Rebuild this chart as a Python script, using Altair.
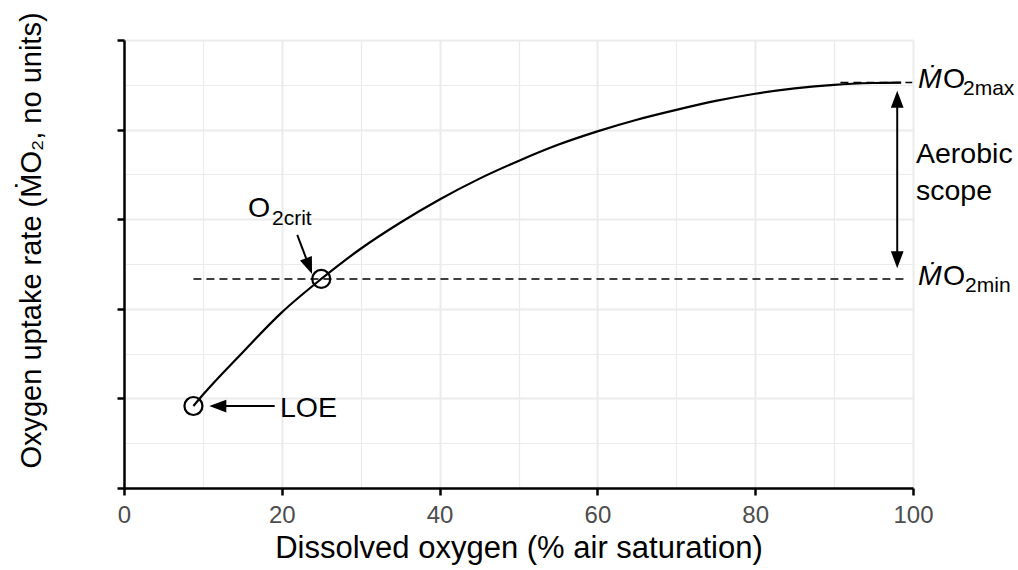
import altair as alt
import pandas as pd

FONT = "Liberation Sans"

# ---- curve (x: % air saturation, y: relative MO2) ----
do_pct = [8.8, 10, 15, 20, 25, 30, 35, 40, 45, 50, 55, 60, 65, 70, 75, 80, 85, 90, 95, 98.5]
mo2 = [0.915, 1.04, 1.51, 1.96, 2.333, 2.67, 2.96, 3.22, 3.45, 3.65, 3.83, 3.98, 4.11, 4.22, 4.32, 4.40, 4.46, 4.50, 4.52, 4.525]

# ---- reference levels ----
mo2_min = 2.333
mo2_max = 4.525
min_line_x = [8.8, 99.2]
max_line_x = [90.8, 99.9]

# ---- marked points (open circles) ----
pt_x = [8.8, 25.0]
pt_y = [0.915, 2.333]

# ---- arrows: shaft start/end and head tip with direction angle ----
shaft_x = [19.1, 21.96, 98.0]
shaft_y = [0.915, 2.824, 4.30]
shaft_x2 = [12.0, 23.4, 98.0]
shaft_y2 = [0.915, 2.49, 2.58]
head_x = [10.81, 23.83, 98.0, 98.0]
head_y = [0.915, 2.388, 4.434, 2.452]
head_angle = [270, 159, 0, 180]

# ---- labels ----
big_text = ["O", "LOE", "Aerobic", "scope", "O", "O"]
big_x = [15.72, 19.77, 100.38, 100.38, 103.8, 103.8]
big_y = [3.025, 0.796, 3.624, 3.214, 4.461, 2.266]
ital_text = ["\u1E40", "\u1E40"]
ital_x = [100.63, 100.63]
ital_y = [4.461, 2.266]
sub_text = ["2crit", "2max", "2min"]
sub_x = [18.76, 106.34, 106.6]
sub_y = [2.935, 4.386, 2.191]

x_grid = [0, 10, 20, 30, 40, 50, 60, 70, 80, 90, 100]
y_grid = [0, 0.5, 1, 1.5, 2, 2.5, 3, 3.5, 4, 4.5, 5]

curve_df = pd.DataFrame({"x": do_pct, "y": mo2})
dash_df = pd.DataFrame({
    "x": [min_line_x[0], max_line_x[0]],
    "x2": [min_line_x[1], max_line_x[1]],
    "y": [mo2_min, mo2_max],
})
pt_df = pd.DataFrame({"x": pt_x, "y": pt_y})
shaft_df = pd.DataFrame({"x": shaft_x, "y": shaft_y, "x2": shaft_x2, "y2": shaft_y2})
head_df = pd.DataFrame({"x": head_x, "y": head_y, "a": head_angle})
big_df = pd.DataFrame({"t": big_text, "x": big_x, "y": big_y})
ital_df = pd.DataFrame({"t": ital_text, "x": ital_x, "y": ital_y})
sub_df = pd.DataFrame({"t": sub_text, "x": sub_x, "y": sub_y})

minor_x = "datum.value % 20 !== 0"
minor_y = "datum.value % 1 !== 0"

x_axis = alt.Axis(
    values=x_grid,
    labelExpr="datum.value % 20 === 0 ? datum.label : ''",
    labelFlush=False,
    tickOpacity={"condition": {"test": minor_x, "value": 0}, "value": 1},
    gridWidth={"condition": {"test": minor_x, "value": 1.2}, "value": 2},
    gridColor="#ebebeb",
    tickSize=7, tickWidth=2.5, tickColor="#000000",
    domainColor="#000000", domainWidth=2.5,
    labelFont=FONT, labelFontSize=24, labelColor="#4d4d4d", labelPadding=8,
    title="Dissolved oxygen (% air saturation)",
    titleFont=FONT, titleFontSize=31, titleFontWeight="normal", titleColor="#000000",
    titlePadding=6,
)
y_axis = alt.Axis(
    values=y_grid,
    labels=False,
    tickOpacity={"condition": {"test": minor_y, "value": 0}, "value": 1},
    gridWidth={"condition": {"test": minor_y, "value": 1.2}, "value": 2},
    gridColor="#ebebeb",
    tickSize=7, tickWidth=2.5, tickColor="#000000",
    domainColor="#000000", domainWidth=2.5,
    title="Oxygen uptake rate (\u1E40O\u2082, no units)",
    titleFont=FONT, titleFontSize=29, titleFontWeight="normal", titleColor="#000000",
    titleAngle=270, titleAlign="center", titleBaseline="alphabetic",
    titleX=-84, titleY=200,
)

xs = alt.Scale(domain=[0, 100], nice=False, zero=False)
ys = alt.Scale(domain=[0, 5], nice=False, zero=False)
X = alt.X("x:Q", scale=xs, axis=x_axis)
Y = alt.Y("y:Q", scale=ys, axis=y_axis)

curve = alt.Chart(curve_df).mark_line(
    color="#000000", strokeWidth=2.2, interpolate="monotone"
).encode(x=X, y=Y)

dashes = alt.Chart(dash_df).mark_rule(
    color="#000000", strokeWidth=1.6, strokeDash=[8, 5]
).encode(x=X, x2="x2:Q", y=Y)

circles = alt.Chart(pt_df).mark_point(
    shape="circle", filled=False, size=324, strokeWidth=2.2, color="#000000", opacity=1
).encode(x=X, y=Y)

shafts = alt.Chart(shaft_df).mark_rule(color="#000000", strokeWidth=2).encode(
    x=X, y=Y, x2="x2:Q", y2="y2:Q"
)

heads = alt.Chart(head_df).mark_point(
    shape="M0,0L0.75,2L-0.75,2Z", filled=True, size=289, color="#000000", opacity=1, strokeWidth=0
).encode(x=X, y=Y, angle=alt.Angle("a:Q", scale=None))

big = alt.Chart(big_df).mark_text(
    font=FONT, fontSize=28.5, align="left", baseline="alphabetic", color="#000000"
).encode(x=X, y=Y, text="t:N")

ital = alt.Chart(ital_df).mark_text(
    font=FONT, fontSize=28.5, fontStyle="italic", align="left", baseline="alphabetic", color="#000000"
).encode(x=X, y=Y, text="t:N")

sub = alt.Chart(sub_df).mark_text(
    font=FONT, fontSize=21, align="left", baseline="alphabetic", color="#000000"
).encode(x=X, y=Y, text="t:N")

chart = alt.layer(curve, dashes, circles, shafts, heads, big, ital, sub).properties(
    width=789, height=448,
    autosize=alt.AutoSizeParams(type="none"),
    padding={"left": 124, "top": 40, "right": 105, "bottom": 82},
    background="#ffffff",
).configure_view(strokeWidth=0)

chart.save("out.html", embed_options={"renderer": "svg", "actions": False})
